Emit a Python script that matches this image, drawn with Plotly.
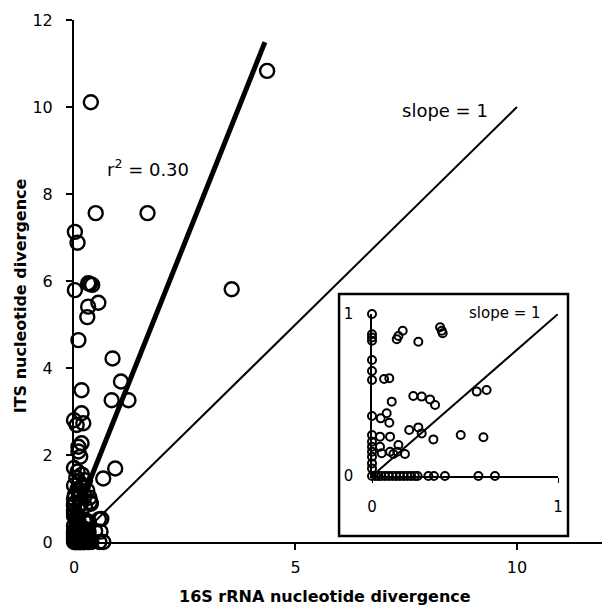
import plotly.graph_objects as go

# ---------------- data ----------------
# Points with both divergences <= 1 (shown in main plot and in inset)
low_x = [0, 0, 0, 0, 0.133, 0.142, 0.165, 0.249, 0.366, 0.375, 0.38,
         0, 0, 0, 0.065, 0.093, 0.106, 0, 0.047, 0.079, 0.093,
         0.222, 0.267, 0.312, 0.339, 0.563, 0.616, 0.2, 0.249, 0.267,
         0.33, 0.477, 0.599, 0, 0, 0, 0, 0,
         0.043, 0.097, 0.043, 0.097, 0.142, 0.136, 0.177, 0.052, 0.115,
         0, 0,
         0, 0.02, 0.035, 0.05, 0.07, 0.09, 0.11, 0.13, 0.15, 0.17, 0.19,
         0.21, 0.23, 0.245, 0.303, 0.333, 0.392, 0.572, 0.661]
low_y = [1.0, 0.875, 0.855, 0.835, 0.844, 0.864, 0.897, 0.829, 0.918, 0.897, 0.881,
         0.716, 0.648, 0.593, 0.599, 0.603, 0.459, 0.370, 0.356, 0.387, 0.329,
         0.494, 0.49, 0.473, 0.438, 0.521, 0.531, 0.284, 0.3, 0.263,
         0.226, 0.253, 0.239, 0.253, 0.212, 0.181, 0.15, 0.119,
         0.243, 0.243, 0.181, 0.15, 0.191, 0.15, 0.136, 0.14, 0.136,
         0.078, 0.047,
         0, 0, 0, 0, 0, 0, 0, 0, 0, 0, 0,
         0, 0, 0, 0, 0, 0, 0, 0]

# Points with larger divergences (main plot only)
high_x = [4.36, 0.38, 0.49, 1.66, 0.02, 0.08, 0.32, 0.41, 0.36, 0.02, 0.55, 0.32,
          0.30, 0.10, 0.87, 1.06, 0.17, 0.85, 1.23, 3.56, 0.17, 0.0, 0.21, 0.06,
          0.1, 0.1, 0.14, 0.17, 0.93, 0.66,
          0.0, 0.08, 0.18, 0.05, 0.25, 0.12, 0.0, 0.2, 0.08, 0.3, 0.15, 0.02,
          0.24, 0.35, 0.1]
high_y = [10.83, 10.11, 7.56, 7.56, 7.13, 6.88, 5.95, 5.91, 5.93, 5.79, 5.5, 5.41,
          5.17, 4.64, 4.22, 3.69, 3.49, 3.26, 3.26, 5.81, 2.96, 2.8, 2.73, 2.69,
          2.19, 2.08, 1.96, 2.27, 1.69, 1.46,
          1.7, 1.62, 1.55, 1.48, 1.42, 1.38, 1.3, 1.28, 1.22, 1.18, 1.12, 1.08,
          1.05, 1.02, 1.02]

reg_x = [0.0, 4.31]
reg_y = [0.5, 11.49]
unit_x = [0.0, 10.0]
unit_y = [0.0, 10.0]
inset_unit_x = [0.0, 1.0]
inset_unit_y = [0.0, 1.0]

main_xticks = [0, 5, 10]
main_yticks = [0, 2, 4, 6, 8, 10, 12]
inset_ticks = [0, 1]

FONT = "DejaVu Sans"

fig = go.Figure()

fig.add_trace(go.Scatter(x=low_x + high_x, y=low_y + high_y, mode="markers",
                         marker=dict(symbol="circle-open", size=14, color="black",
                                     line=dict(width=2.4, color="black")),
                         cliponaxis=False, showlegend=False))
fig.add_trace(go.Scatter(x=reg_x, y=reg_y, mode="lines",
                         line=dict(color="black", width=5), showlegend=False))
fig.add_trace(go.Scatter(x=unit_x, y=unit_y, mode="lines",
                         line=dict(color="black", width=2), showlegend=False))

# inset
fig.add_trace(go.Scatter(x=inset_unit_x, y=inset_unit_y, mode="lines",
                         line=dict(color="black", width=2), showlegend=False,
                         xaxis="x2", yaxis="y2"))
fig.add_trace(go.Scatter(x=low_x, y=low_y, mode="markers",
                         marker=dict(symbol="circle-open", size=8, color="black",
                                     line=dict(width=2, color="black")),
                         cliponaxis=False, showlegend=False, xaxis="x2", yaxis="y2"))

base = dict(showline=True, linecolor="black", showgrid=False, zeroline=False,
            ticks="outside", tickcolor="black", automargin=False)
main_font = dict(family=FONT, size=16, color="black")
inset_font = dict(family=FONT, size=15, color="black")

fig.update_layout(
    width=602, height=605,
    margin=dict(l=74, r=0, t=20, b=63, autoexpand=False),
    paper_bgcolor="white", plot_bgcolor="white",
    font=dict(family=FONT, color="black"),
    hovermode=False,
    xaxis=dict(range=[0, 11.92], tickvals=main_xticks, ticklen=6, tickwidth=2,
               linewidth=2, ticklabelstandoff=4, domain=[0, 1],
               tickfont=main_font, **base),
    yaxis=dict(range=[0, 12], tickvals=main_yticks, ticklen=6, tickwidth=2,
               linewidth=2, ticklabelstandoff=10, domain=[0, 1],
               tickfont=main_font, **base),
    xaxis2=dict(range=[0, 1], tickvals=inset_ticks, ticklen=5, tickwidth=1,
                linewidth=1.5, domain=[0.5644, 0.9167], anchor="y2",
                ticklabelstandoff=11, tickfont=inset_font, **base),
    yaxis2=dict(range=[0, 1], tickvals=inset_ticks, ticklen=0, tickwidth=1,
                linewidth=1.5, domain=[0.1264, 0.4368], anchor="x2",
                ticklabelstandoff=14, tickfont=inset_font, **base),
    shapes=[dict(type="rect", xref="paper", yref="paper",
                 x0=0.502, x1=0.9356, y0=0.0115, y1=0.475,
                 line=dict(color="black", width=2.5), layer="below")],
    annotations=[
        dict(text="16S rRNA nucleotide divergence", xref="paper", yref="paper",
             x=0.475, y=-0.105, showarrow=False, xanchor="center", yanchor="middle",
             font=dict(family=FONT, size=16, color="black", weight="bold")),
        dict(text="ITS nucleotide divergence", xref="paper", yref="paper",
             x=-0.101, y=0.472, showarrow=False, textangle=-90,
             xanchor="center", yanchor="middle",
             font=dict(family=FONT, size=16, color="black", weight="bold")),
        dict(text="r<sup>2</sup> = 0.30", x=1.67, y=8.6, xref="x", yref="y",
             showarrow=False, xanchor="center", yanchor="middle",
             font=dict(family=FONT, size=18, color="black")),
        dict(text="slope = 1", x=8.37, y=9.93, xref="x", yref="y",
             showarrow=False, xanchor="center", yanchor="middle",
             font=dict(family=FONT, size=18, color="black")),
        dict(text="slope = 1", x=0.816, y=0.4387, xref="paper", yref="paper",
             showarrow=False, xanchor="center", yanchor="middle",
             font=dict(family=FONT, size=15, color="black")),
    ],
)

# remove the default page margin so the 602x605 figure fills the window exactly
fig.write_html("out.html",
               config={"displayModeBar": False},
               post_script="document.body.style.margin='0px';"
                           "document.body.style.overflow='hidden';")
